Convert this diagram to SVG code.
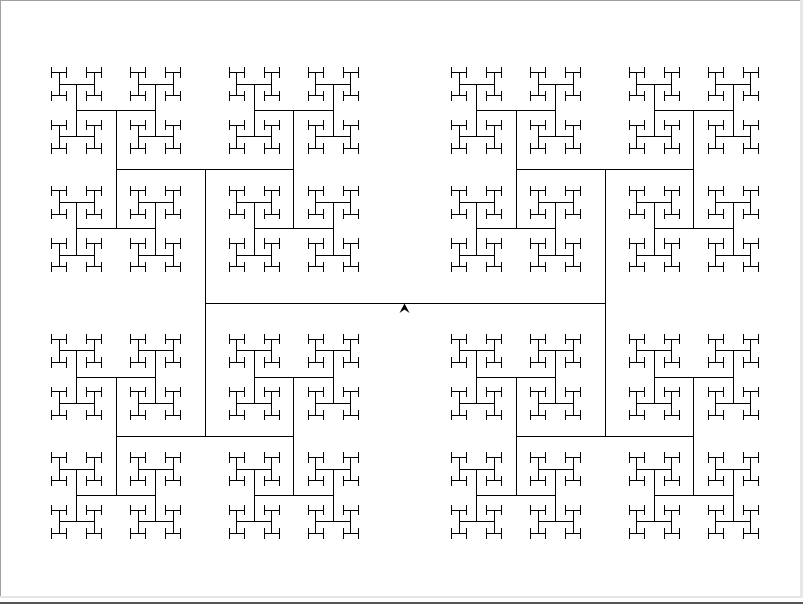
<svg xmlns="http://www.w3.org/2000/svg" xmlns:xlink="http://www.w3.org/1999/xlink" width="803" height="604" viewBox="0 0 803 604">
  <style>
    .frame-dark { fill: #a0a0a0; }
    .frame-light { fill: #e6e6e6; }
    .turtle { fill: #000; stroke: none; }
  </style>
  <defs>
    <path id="s9" d="M0,-5.2V5.2"/>
    <g id="s8"><path d="M-7.8,0H7.8"/><use href="#s9" xlink:href="#s9" x="-7.8"/><use href="#s9" xlink:href="#s9" x="7.8"/></g>
    <g id="s7"><path d="M0,-11.7V11.7"/><use href="#s8" xlink:href="#s8" y="-11.7"/><use href="#s8" xlink:href="#s8" y="11.7"/></g>
    <g id="s6"><path d="M-17.56,0H17.56"/><use href="#s7" xlink:href="#s7" x="-17.56"/><use href="#s7" xlink:href="#s7" x="17.56"/></g>
    <g id="s5"><path d="M0,-26.34V26.34"/><use href="#s6" xlink:href="#s6" y="-26.34"/><use href="#s6" xlink:href="#s6" y="26.34"/></g>
    <g id="s4"><path d="M-39.51,0H39.51"/><use href="#s5" xlink:href="#s5" x="-39.51"/><use href="#s5" xlink:href="#s5" x="39.51"/></g>
    <g id="s3"><path d="M0,-59.26V59.26"/><use href="#s4" xlink:href="#s4" y="-59.26"/><use href="#s4" xlink:href="#s4" y="59.26"/></g>
    <g id="s2"><path d="M-88.89,0H88.89"/><use href="#s3" xlink:href="#s3" x="-88.89"/><use href="#s3" xlink:href="#s3" x="88.89"/></g>
    <g id="s1"><path d="M0,-133.33V133.33"/><use href="#s2" xlink:href="#s2" y="-133.33"/><use href="#s2" xlink:href="#s2" y="133.33"/></g>
    <g id="s0"><path d="M-200,0H200"/><use href="#s1" xlink:href="#s1" x="-200"/><use href="#s1" xlink:href="#s1" x="200"/></g>
  </defs>
  <rect width="803" height="604" fill="#ffffff"/>
  <g id="frame">
    <rect class="frame-dark" x="0" y="0" width="803" height="1"/>
    <rect class="frame-dark" x="0" y="0" width="1" height="597"/>
    <rect class="frame-light" x="800" y="0" width="3" height="598"/>
    <rect class="frame-light" x="0" y="596" width="803" height="2"/>
    <rect x="0" y="602" width="803" height="2" fill="#555555"/>
  </g>
  <g id="h-tree" stroke="#000000" stroke-width="1" fill="none" shape-rendering="crispEdges">
    <use href="#s0" xlink:href="#s0" x="405" y="303"/>
  </g>
  <g id="turtle">
    <polygon class="turtle" points="404.5,303.5 399.5,313 404.5,309.5 409.5,313"/>
  </g>
</svg>
